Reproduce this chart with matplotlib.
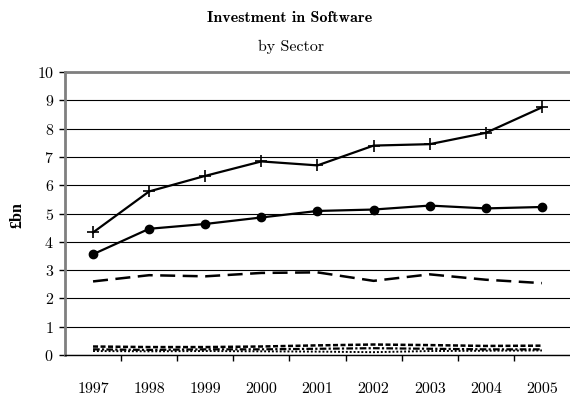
import matplotlib
matplotlib.use("Agg")
import matplotlib.pyplot as plt
from matplotlib.ticker import FixedLocator

plt.rcParams["font.family"] = ["cmr10", "DejaVu Serif"]
plt.rcParams["axes.formatter.use_mathtext"] = True
plt.rcParams["axes.unicode_minus"] = False

years = ["1997", "1998", "1999", "2000", "2001", "2002", "2003", "2004", "2005"]
s_plus = [4.33, 5.78, 6.33, 6.84, 6.70, 7.40, 7.45, 7.85, 8.75]
s_dot = [3.56, 4.46, 4.63, 4.86, 5.09, 5.14, 5.28, 5.18, 5.23]
s_dash = [2.60, 2.82, 2.78, 2.90, 2.92, 2.62, 2.85, 2.66, 2.54]
s_low1 = [0.30, 0.28, 0.28, 0.30, 0.34, 0.37, 0.35, 0.32, 0.33]
s_low2 = [0.20, 0.18, 0.20, 0.20, 0.22, 0.24, 0.22, 0.20, 0.20]
s_low3 = [0.14, 0.13, 0.14, 0.13, 0.12, 0.10, 0.14, 0.15, 0.16]

INK = "black"; GREY = "#7f7f7f"
FS = 11.5

fig = plt.figure(figsize=(5.7, 4.0), dpi=100)
ax = fig.add_axes([0.114, 0.1125, 0.886, 0.7075])
x = list(range(len(years)))

ax.plot(x, s_plus, color=INK, lw=1.6, marker="+", ms=9, mew=1.2, zorder=4)
ax.plot(x, s_dot, color=INK, lw=1.6, marker="o", ms=6, zorder=4)
ax.plot(x, s_dash, color=INK, lw=1.8, ls=(0, (6, 3)), zorder=4)
ax.plot(x, s_low1, color=INK, lw=1.8, ls=(0, (2, 1)), zorder=4)
ax.plot(x, s_low2, color=INK, lw=1.6, ls=(0, (3, 1, 1, 1)), zorder=4)
ax.plot(x, s_low3, color=INK, lw=1.4, ls=(0, (1, 1)), zorder=4)

ax.set_xlim(-0.5, len(years) - 0.5)
ax.set_ylim(0, 10)
ax.set_yticks(range(0, 11))
ax.yaxis.grid(True, color=INK, lw=0.8)
ax.set_axisbelow(True)

ax.set_xticks(x)
ax.set_xticklabels(years, fontsize=FS)
ax.tick_params(axis="x", which="major", length=0, pad=20)
ax.xaxis.set_minor_locator(FixedLocator([i + 0.5 for i in x[:-1]]))
ax.tick_params(axis="x", which="minor", length=4, width=1, color=INK, direction="out")
ax.tick_params(axis="y", labelsize=FS, length=4, width=1, color=INK, pad=4)

ax.spines["right"].set_visible(False)
ax.spines["top"].set_color(GREY); ax.spines["top"].set_linewidth(2)
ax.spines["left"].set_color(GREY); ax.spines["left"].set_linewidth(2)
ax.spines["bottom"].set_color(INK); ax.spines["bottom"].set_linewidth(1)

fig.text(17 / 570, 1 - 215 / 400, "£bn", rotation=90, ha="center", va="center",
         fontsize=FS, family=["Liberation Serif"], weight="bold")
fig.text(290 / 570, 1 - 18 / 400, "Investment in Software", ha="center", va="center",
         fontsize=FS, family=["cmb10", "DejaVu Serif"])
fig.text(291 / 570, 1 - 47 / 400, "by Sector", ha="center", va="center", fontsize=FS)

fig.savefig("out.png", dpi=100)
